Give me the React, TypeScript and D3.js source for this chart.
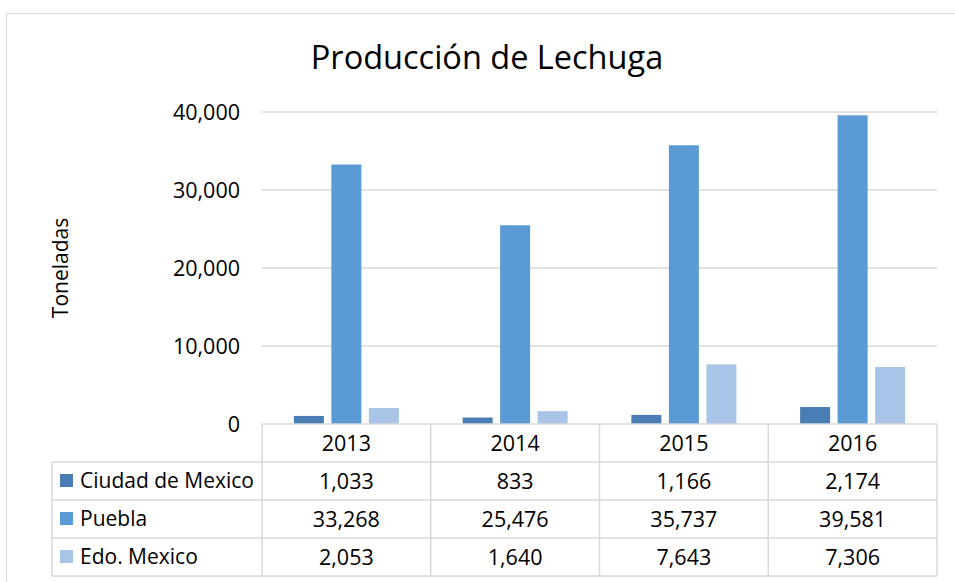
import React from 'react'
import * as d3 from 'd3'

const W = 955
const H = 582
const PLOT = { left: 262, right: 937, top: 112, bottom: 424 }
const ROW_H = 38

const years = ['2013', '2014', '2015', '2016']
const seriesNames = ['Ciudad de Mexico', 'Puebla', 'Edo. Mexico']
const ciudadMexico = [1033, 833, 1166, 2174]
const puebla = [33268, 25476, 35737, 39581]
const edoMexico = [2053, 1640, 7643, 7306]
const yTicks = [0, 10000, 20000, 30000, 40000]

const colors = ['#4a7db4', '#5b9bd5', '#a9c4e6']
const FONT = '"Open Sans", "Noto Sans", sans-serif'
const GRID = '#d9d9d9'
const NUM_SIZE = 21.5
const LABEL_SIZE = 21

const App = () => {
  const values = [ciudadMexico, puebla, edoMexico]
  const fmt = d3.format(',')

  const x = d3.scaleBand().domain(years).range([PLOT.left, PLOT.right])
  const groupW = 105
  const xs = d3
    .scaleBand()
    .domain(seriesNames)
    .range([(x.bandwidth() - groupW) / 2, (x.bandwidth() + groupW) / 2])
    .paddingInner(0.2)
  const y = d3.scaleLinear().domain([0, 40000]).range([PLOT.bottom, PLOT.top])

  const tableLeft = 52
  const rowTop = (i: number) => PLOT.bottom + ROW_H * (i + 1)
  const tableBottom = PLOT.bottom + ROW_H * 4

  return (
    <svg width={W} height={H} style={{ position: 'absolute', left: 0, top: 0 }}>
      <rect x={0} y={0} width={W} height={H} fill="#fff" />
      <rect x={6.5} y={13.5} width={W + 10} height={H + 10} fill="none" stroke={GRID} />

      <text x={487} y={69} textAnchor="middle" fontFamily={FONT} fontSize={32.5} fill="#000">
        Producción de Lechuga
      </text>

      <text
        transform={`translate(68,268) rotate(-90)`}
        textAnchor="middle"
        fontFamily={FONT}
        fontSize={LABEL_SIZE}
        fill="#000"
      >
        Toneladas
      </text>

      {yTicks.map(t => (
        <g key={t}>
          {t > 0 && (
            <line x1={PLOT.left} x2={PLOT.right} y1={y(t)} y2={y(t)} stroke={GRID} strokeWidth={1.5} />
          )}
          <text
            x={240}
            y={y(t)}
            dy="0.35em"
            textAnchor="end"
            fontFamily={FONT}
            fontSize={NUM_SIZE}
            fill="#000"
          >
            {fmt(t)}
          </text>
        </g>
      ))}

      {values.map((vals, si) =>
        vals.map((v, i) => (
          <rect
            key={`${si}-${i}`}
            x={(x(years[i]) as number) + (xs(seriesNames[si]) as number)}
            y={y(v)}
            width={xs.bandwidth()}
            height={y(0) - y(v)}
            fill={colors[si]}
          />
        ))
      )}

      {/* data table */}
      <g stroke={GRID} strokeWidth={1.5} fill="none">
        <line x1={PLOT.left} x2={PLOT.right} y1={PLOT.bottom} y2={PLOT.bottom} />
        {[0, 1, 2, 3].map(i => (
          <line key={i} x1={tableLeft} x2={PLOT.right} y1={rowTop(i)} y2={rowTop(i)} />
        ))}
        <line x1={tableLeft} x2={tableLeft} y1={rowTop(0)} y2={tableBottom} />
        {years.map(yr => (
          <line key={yr} x1={x(yr)} x2={x(yr)} y1={PLOT.bottom} y2={tableBottom} />
        ))}
        <line x1={PLOT.right} x2={PLOT.right} y1={PLOT.bottom} y2={tableBottom} />
      </g>

      {years.map(yr => (
        <text
          key={yr}
          x={(x(yr) as number) + x.bandwidth() / 2}
          y={PLOT.bottom + ROW_H / 2}
          dy="0.35em"
          textAnchor="middle"
          fontFamily={FONT}
          fontSize={NUM_SIZE}
          fill="#000"
        >
          {yr}
        </text>
      ))}

      {seriesNames.map((name, si) => (
        <g key={name}>
          <rect x={60} y={rowTop(si) + ROW_H / 2 - 7} width={13} height={13} fill={colors[si]} />
          <text
            x={80}
            y={rowTop(si) + ROW_H / 2}
            dy="0.35em"
            fontFamily={FONT}
            fontSize={LABEL_SIZE}
            fill="#000"
          >
            {name}
          </text>
          {values[si].map((v, i) => (
            <text
              key={i}
              x={(x(years[i]) as number) + x.bandwidth() / 2}
              y={rowTop(si) + ROW_H / 2}
              dy="0.35em"
              textAnchor="middle"
              fontFamily={FONT}
              fontSize={NUM_SIZE}
              fill="#000"
            >
              {fmt(v)}
            </text>
          ))}
        </g>
      ))}
    </svg>
  )
}

export default App
